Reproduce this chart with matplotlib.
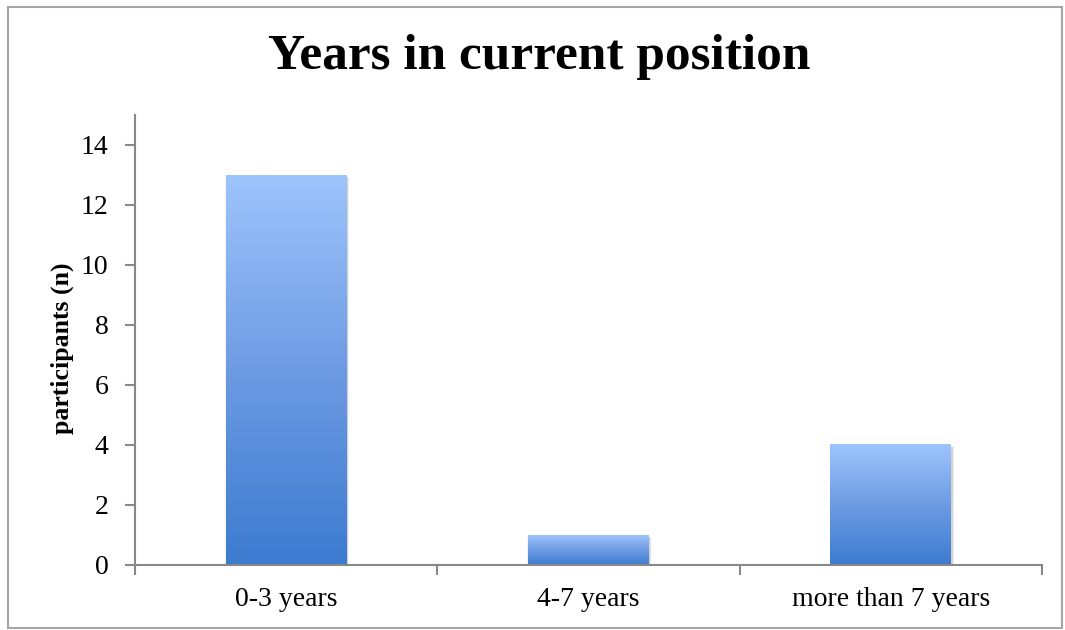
import numpy as np
import matplotlib.pyplot as plt
from matplotlib.colors import LinearSegmentedColormap
from matplotlib.patches import Rectangle

categories = ['0-3 years', '4-7 years', 'more than 7 years']
participants = [13, 1, 4]
y_ticks = [0, 2, 4, 6, 8, 10, 12, 14]

plt.rcParams['font.family'] = ['Liberation Serif', 'DejaVu Serif']

fig = plt.figure(figsize=(10.65, 6.3), dpi=100)
ax = fig.add_axes([135 / 1065, 1 - 565 / 630, (1042 - 135) / 1065, (565 - 115) / 630])

# outer frame round the whole chart
fig.patches.append(Rectangle((8 / 1065, 2 / 630), 1054 / 1065, 621 / 630,
                             transform=fig.transFigure, fill=False,
                             edgecolor='#a6a6a6', linewidth=1.5))

grad = LinearSegmentedColormap.from_list('bar', ['#3c7bd0', '#6d9be3', '#9ec4fc'])
col = np.linspace(0, 1, 256).reshape(-1, 1)

x = np.arange(len(categories))
width = 0.4
for xi, v in zip(x, participants):
    # soft shadow behind each bar, a few faint layers
    for k, a in [(0.010, 0.05), (0.006, 0.06), (0.003, 0.07)]:
        ax.add_patch(Rectangle((xi - width / 2 - k / 2 + 0.003, -0.1), width + k, v + 0.05,
                               facecolor='#000000', alpha=a, edgecolor='none', zorder=1))
    ax.imshow(col, cmap=grad, aspect='auto', origin='lower',
              extent=(xi - width / 2, xi + width / 2, 0, v), zorder=2)

ax.set_xlim(-0.5, len(categories) - 0.5)
ax.set_ylim(0, 15)

ax.set_yticks(y_ticks)
ax.set_xticks(x)
ax.set_xticklabels(categories)
ax.set_xticks(np.arange(len(categories) + 1) - 0.5, minor=True)
ax.tick_params(axis='x', which='major', length=0, pad=16, labelsize=20)
ax.tick_params(axis='x', which='minor', length=7, width=1.5, color='#888888')
ax.tick_params(axis='y', length=7, width=1.5, color='#888888', labelsize=20, pad=12)

for side in ['top', 'right']:
    ax.spines[side].set_visible(False)
for side in ['left', 'bottom']:
    ax.spines[side].set_color('#888888')
    ax.spines[side].set_linewidth(1.5)

ax.set_ylabel('participants (n)', fontsize=18.5, fontweight='bold')
ax.yaxis.set_label_coords(-0.067, 0.482)
fig.text(539 / 1065, 1 - 57 / 630, 'Years in current position', ha='center', va='center',
         fontsize=37, fontweight='bold')

fig.savefig('out.png', dpi=100)
